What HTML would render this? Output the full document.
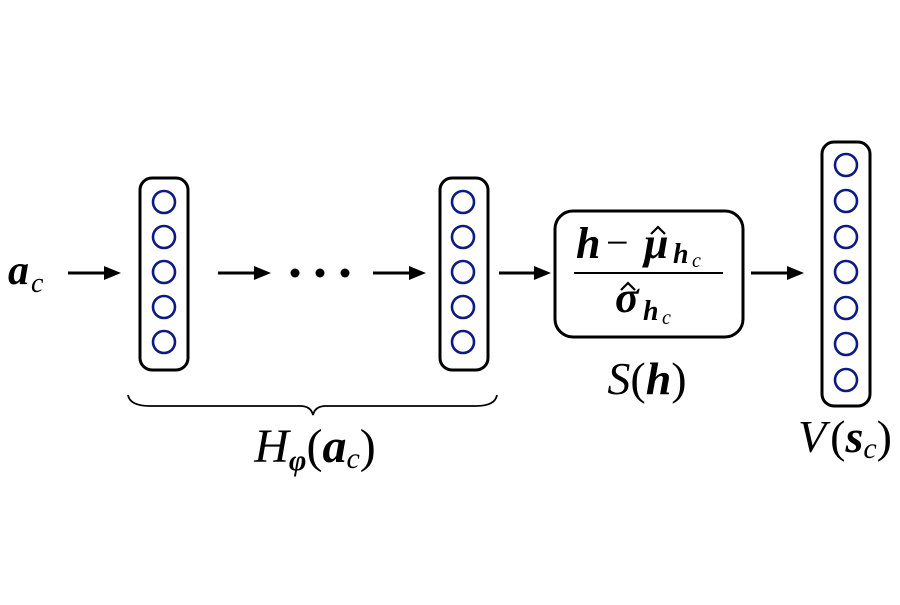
<!DOCTYPE html>
<html><head><meta charset="utf-8"><style>html,body{margin:0;padding:0;background:#fff}</style></head>
<body>
<svg width="900" height="600" viewBox="0 0 900 600" xmlns="http://www.w3.org/2000/svg" font-family="Liberation Serif, serif">
<g fill="none" stroke="#000" stroke-width="3">
<rect x="140" y="178" width="48" height="192" rx="12"/>
<rect x="440" y="178" width="48" height="192" rx="12"/>
<rect x="555" y="211" width="188" height="126" rx="18"/>
<rect x="822" y="142" width="48" height="264" rx="12"/>
</g>
<g fill="none" stroke="#0b1a85" stroke-width="2.6">
<circle cx="164" cy="202" r="11"/><circle cx="164" cy="237" r="11"/><circle cx="164" cy="272" r="11"/><circle cx="164" cy="307" r="11"/><circle cx="164" cy="342" r="11"/>
<circle cx="463" cy="202" r="11"/><circle cx="463" cy="237" r="11"/><circle cx="463" cy="272" r="11"/><circle cx="463" cy="307" r="11"/><circle cx="463" cy="342" r="11"/>
<circle cx="846" cy="165" r="11"/><circle cx="846" cy="201" r="11"/><circle cx="846" cy="237" r="11"/><circle cx="846" cy="272" r="11"/><circle cx="846" cy="308" r="11"/><circle cx="846" cy="344" r="11"/><circle cx="846" cy="380" r="11"/>
</g>
<g stroke="#000" stroke-width="3">
<line x1="68" y1="273" x2="106" y2="273"/><path d="M104,266 L121,273 L104,280Z" stroke="none" fill="#000"/>
<line x1="218" y1="273" x2="256" y2="273"/><path d="M254,266 L271,273 L254,280Z" stroke="none" fill="#000"/>
<line x1="373" y1="273" x2="411" y2="273"/><path d="M409,266 L426,273 L409,280Z" stroke="none" fill="#000"/>
<line x1="499" y1="273" x2="536" y2="273"/><path d="M534,266 L551,273 L534,280Z" stroke="none" fill="#000"/>
<line x1="751" y1="273" x2="789" y2="273"/><path d="M787,266 L804,273 L787,280Z" stroke="none" fill="#000"/>
</g>
<circle cx="295" cy="273" r="4.5"/><circle cx="320" cy="273" r="4.5"/><circle cx="345" cy="273" r="4.5"/>
<line x1="574" y1="273" x2="723" y2="273" stroke="#000" stroke-width="2"/>
<path d="M128,395 Q130,406 150,406 L300,406 Q311,406 313,415 Q315,406 326,406 L476,406 Q495,406 497,395" fill="none" stroke="#000" stroke-width="1.8"/>
<text x="8" y="284" font-size="42" font-style="italic" font-weight="bold">a</text>
<text x="31" y="292" font-size="28" font-style="italic">c</text>
<g fill="none" stroke="#000" stroke-width="2.2">
<path d="M651,234 L658,227 L665,234"/>
<path d="M621,290 L628,283 L635,290"/>
</g>
<text x="576" y="258" font-size="44" font-style="italic" font-weight="bold">h</text>
<text x="606" y="256" font-size="40">−</text>
<text x="644" y="258" font-size="44" font-style="italic" font-weight="bold">μ</text>
<text x="673" y="263" font-size="28" font-style="italic" font-weight="bold">h</text>
<text x="692" y="267" font-size="20" font-style="italic">c</text>
<text x="615" y="312" font-size="44" font-style="italic" font-weight="bold">σ</text>
<text x="643" y="320" font-size="28" font-style="italic" font-weight="bold">h</text>
<text x="662" y="324" font-size="20" font-style="italic">c</text>
<text x="647" y="394" font-size="46" font-style="italic" text-anchor="middle">S<tspan font-style="normal">(</tspan><tspan font-weight="bold">h</tspan><tspan font-style="normal">)</tspan></text>
<text x="845" y="452" font-size="46" font-style="italic" text-anchor="middle">V<tspan font-style="normal" dx="4">(</tspan><tspan font-weight="bold">s</tspan><tspan font-size="30" dy="6">c</tspan><tspan font-style="normal" dy="-6">)</tspan></text>
<text x="315" y="462" font-size="48" font-style="italic" text-anchor="middle">H<tspan font-size="30" font-weight="bold" dy="8">φ</tspan><tspan font-style="normal" dy="-8">(</tspan><tspan font-weight="bold">a</tspan><tspan font-size="30" dy="6">c</tspan><tspan font-style="normal" dy="-6">)</tspan></text>
</svg>
</body></html>
